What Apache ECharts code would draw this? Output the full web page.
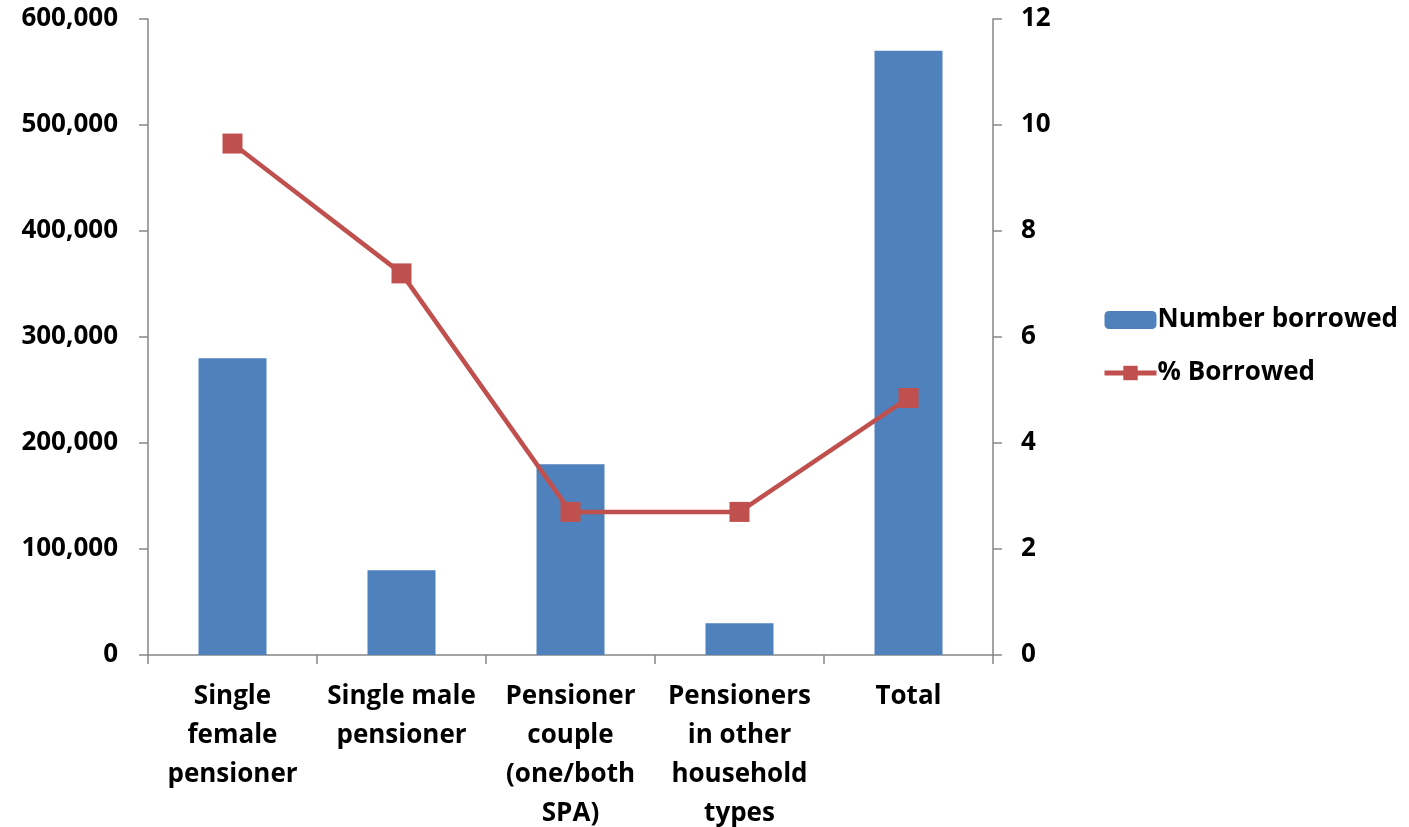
<!DOCTYPE html>
<html>
<head>
<meta charset="utf-8">
<script src="https://cdn.jsdelivr.net/npm/echarts@6/dist/echarts.min.js"></script>
<style>
  html, body { margin: 0; padding: 0; background: #fff; }
  #chart { width: 1409px; height: 827px; }
</style>
</head>
<body>
<div id="chart"></div>
<script>
const categories = [
  'Single\nfemale\npensioner',
  'Single male\npensioner',
  'Pensioner\ncouple\n(one/both\nSPA)',
  'Pensioners\nin other\nhousehold\ntypes',
  'Total'
]
const numberBorrowed = [280000, 80000, 180000, 30000, 570000]
const pctBorrowed = [9.65, 7.2, 2.7, 2.7, 4.85]

const font = '"Open Sans", sans-serif'
const axisGray = '#868686'
const labelStyle = { color: '#000', fontFamily: font, fontWeight: 'bold', fontSize: 26 }

const chart = echarts.init(document.getElementById('chart'))
chart.setOption({
  animation: false,
  grid: { left: 148, right: 416, top: 19, bottom: 172, outerBoundsMode: 'none' },
  legend: {
    orient: 'vertical',
    left: 1097,
    top: 302,
    itemWidth: 52,
    itemHeight: 18,
    itemGap: 27,
    textStyle: { ...labelStyle, padding: [0, 0, 0, -4] },
    data: [
      { name: 'Number borrowed' },
      { name: '% Borrowed', lineStyle: { width: 5 }, itemStyle: { color: '#c0504d' } }
    ]
  },
  xAxis: {
    type: 'category',
    data: categories,
    axisLine: { lineStyle: { color: axisGray, width: 1.5 } },
    axisTick: { show: true, length: 9, lineStyle: { color: axisGray, width: 1.5 } },
    axisLabel: { ...labelStyle, lineHeight: 39, margin: 22, interval: 0 }
  },
  yAxis: [
    {
      type: 'value',
      min: 0, max: 600000, interval: 100000,
      splitLine: { show: false },
      axisLine: { show: true, lineStyle: { color: axisGray, width: 1.5 } },
      axisTick: { show: true, length: 9, lineStyle: { color: axisGray, width: 1.5 } },
      axisLabel: {
        ...labelStyle, margin: 30,
        formatter: v => v.toLocaleString('en-US')
      }
    },
    {
      type: 'value',
      min: 0, max: 12, interval: 2,
      splitLine: { show: false },
      axisLine: { show: true, lineStyle: { color: axisGray, width: 1.5 } },
      axisTick: { show: true, length: 9, lineStyle: { color: axisGray, width: 1.5 } },
      axisLabel: { ...labelStyle, margin: 28 }
    }
  ],
  series: [
    {
      name: 'Number borrowed',
      type: 'bar',
      data: numberBorrowed,
      barWidth: 68,
      itemStyle: { color: '#4f81bd' }
    },
    {
      name: '% Borrowed',
      type: 'line',
      yAxisIndex: 1,
      data: pctBorrowed,
      symbol: 'rect',
      symbolSize: 20,
      lineStyle: { color: '#c0504d', width: 4.5 },
      itemStyle: { color: '#c0504d' }
    }
  ]
})
</script>
</body>
</html>
